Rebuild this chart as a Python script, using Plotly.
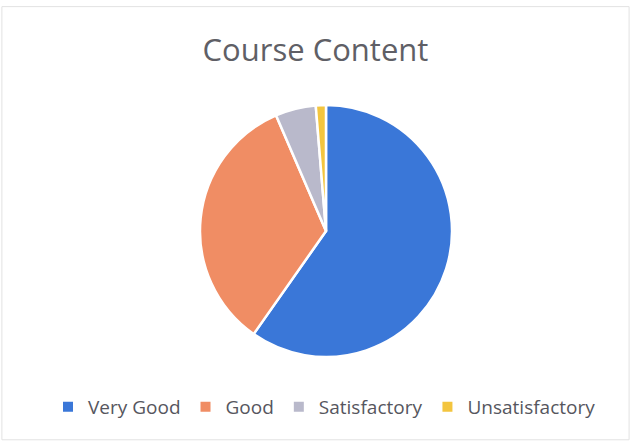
import plotly.graph_objects as go

categories = ["Very Good", "Good", "Satisfactory", "Unsatisfactory"]
responses = [46, 26, 4, 1]
colors = ["#3a77d8", "#f08d64", "#b9b9cb", "#f3c53f"]

W, H = 631, 442
cx, cy, r = 326, 231, 126

fig = go.Figure(go.Pie(
    labels=categories,
    values=responses,
    sort=False,
    direction="clockwise",
    rotation=0,
    marker=dict(colors=colors, line=dict(color="white", width=2.5)),
    textinfo="none",
    hoverinfo="label+value+percent",
    domain=dict(x=[(cx - r) / W, (cx + r) / W], y=[1 - (cy + r) / H, 1 - (cy - r) / H]),
))

fig.update_layout(
    width=W, height=H,
    margin=dict(l=0, r=0, t=0, b=0),
    paper_bgcolor="white",
    title=dict(text="Course Content", x=0.5, xanchor="center", y=1 - 50 / H, yanchor="middle",
               font=dict(family="Open Sans", size=31, color="#5f5f66")),
    legend=dict(orientation="h", x=0.5 + 9 / W, xanchor="center", y=1 - 407 / H, yanchor="middle",
                font=dict(family="Open Sans", size=19, color="#56565e"),
                itemsizing="constant", traceorder="normal"),
    shapes=[dict(type="rect", xref="paper", yref="paper", x0=0.003, y0=0.005, x1=0.997, y1=0.985,
                 line=dict(color="#e2e2e2", width=1))],
)

fig.write_html("out.html", config={"displayModeBar": False},
               post_script="document.body.style.margin='0';document.body.style.padding='0';")
